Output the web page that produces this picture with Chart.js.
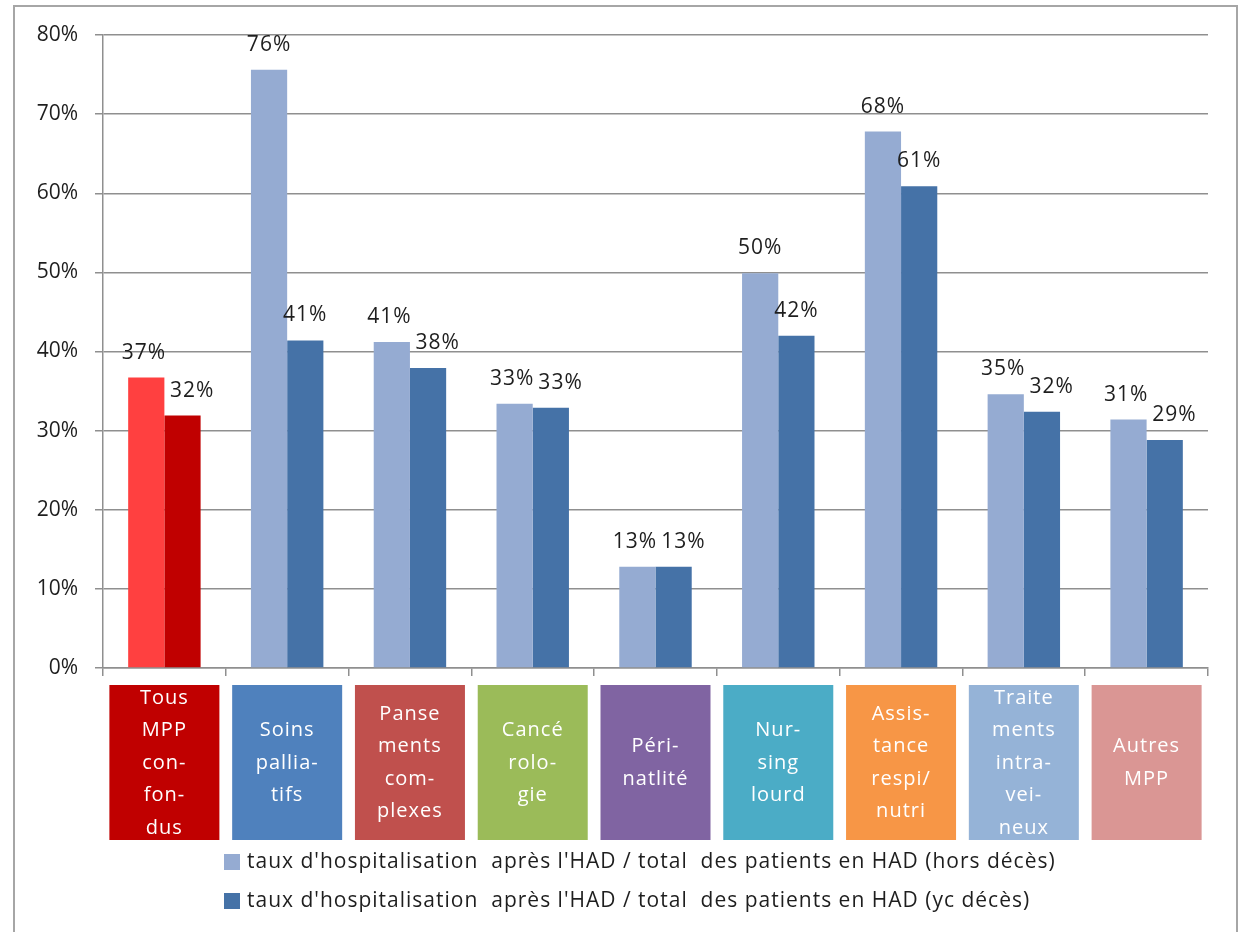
<!DOCTYPE html>
<html>
<head>
<meta charset="utf-8">
<script src="https://cdn.jsdelivr.net/npm/chart.js@4"></script>
<style>
  html, body { margin: 0; padding: 0; background: #fff; }
  #wrap { width: 1241px; height: 932px; position: relative; }
</style>
</head>
<body>
<div id="wrap"><canvas id="chart" width="1241" height="932"></canvas></div>
<script>
// Data
const categories = [
    ['Tous', 'MPP', 'con-', 'fon-', 'dus'],
    ['Soins', 'pallia-', 'tifs'],
    ['Panse', 'ments', 'com-', 'plexes'],
    ['Cancé', 'rolo-', 'gie'],
    ['Péri-', 'natlité'],
    ['Nur-', 'sing', 'lourd'],
    ['Assis-', 'tance', 'respi/', 'nutri'],
    ['Traite', 'ments', 'intra-', 'vei-', 'neux'],
    ['Autres', 'MPP']
];
const horsDeces = [36.7, 75.6, 41.2, 33.4, 12.8, 49.9, 67.8, 34.6, 31.4];
const ycDeces = [31.9, 41.4, 37.9, 32.9, 12.8, 42.0, 60.9, 32.4, 28.8];
const seriesNames = [
    "taux d'hospitalisation  après l'HAD / total  des patients en HAD (hors décès)",
    "taux d'hospitalisation  après l'HAD / total  des patients en HAD (yc décès)"
];
const yTicks = [0, 10, 20, 30, 40, 50, 60, 70, 80];

// Colors
const LIGHT = '#95ABD2';
const DARK = '#4572A7';
const boxColors = ['#C00000', '#4F81BD', '#C0504D', '#9BBB59', '#8064A2', '#4BACC6', '#F79646', '#95B3D7', '#DA9694'];
const FONT = "'Open Sans', Lato, sans-serif";
const GRID = '#8f8f8f';
const TEXT = '#1e1e1e';

// Outer frame
const framePlugin = {
    id: 'frame',
    beforeDraw(chart) {
        const ctx = chart.ctx;
        ctx.save();
        ctx.fillStyle = '#fff';
        ctx.fillRect(0, 0, chart.width, chart.height);
        ctx.strokeStyle = '#a6a6a6';
        ctx.lineWidth = 2;
        ctx.strokeRect(14, 6, 1223, 960);
        ctx.restore();
    }
};

// Value labels above bars, pushed apart when the pair would collide
const valueLabels = {
    id: 'valueLabels',
    afterDatasetsDraw(chart) {
        const ctx = chart.ctx;
        ctx.save();
        ctx.font = '21px ' + FONT;
        ctx.letterSpacing = '1px';
        ctx.fillStyle = TEXT;
        ctx.textAlign = 'center';
        ctx.textBaseline = 'middle';
        const m0 = chart.getDatasetMeta(0).data;
        const m1 = chart.getDatasetMeta(1).data;
        const d0 = chart.data.datasets[0].data;
        const d1 = chart.data.datasets[1].data;
        categories.forEach((c, i) => {
            const t0 = Math.round(d0[i]) + '%';
            const t1 = Math.round(d1[i]) + '%';
            let x0 = m0[i].x, x1 = m1[i].x;
            const y0 = m0[i].y - 25, y1 = m1[i].y - 25;
            if (Math.abs(y1 - y0) < 42) {
                const w0 = ctx.measureText(t0).width, w1 = ctx.measureText(t1).width;
                const overlap = (w0 + w1) / 2 + 4 - (x1 - x0);
                if (overlap > 0) {
                    x0 -= overlap * 0.2;
                    x1 += overlap * 0.8;
                }
            }
            ctx.fillText(t0, x0, y0);
            ctx.fillText(t1, x1, y1);
        });
        ctx.restore();
    }
};

// Coloured category boxes under the axis
const categoryBoxes = {
    id: 'categoryBoxes',
    afterDraw(chart) {
        const ctx = chart.ctx;
        const x = chart.scales.x;
        const top = 685, h = 155, w = 110, mid = 763, lh = 32.5;
        ctx.save();
        categories.forEach((lines, i) => {
            const cx = x.getPixelForValue(i);
            ctx.fillStyle = boxColors[i];
            ctx.fillRect(cx - w / 2, top, w, h);
            ctx.save();
            ctx.beginPath();
            ctx.rect(cx - w / 2, top, w, h);
            ctx.clip();
            ctx.fillStyle = '#fff';
            ctx.font = '20px ' + FONT;
            ctx.letterSpacing = '1px';
            ctx.textAlign = 'center';
            ctx.textBaseline = 'middle';
            lines.forEach((t, j) => {
                ctx.fillText(t, cx, mid + (j - (lines.length - 1) / 2) * lh);
            });
            ctx.restore();
        });
        ctx.restore();
    }
};

// Legend drawn from the datasets
const bottomLegend = {
    id: 'bottomLegend',
    afterDraw(chart) {
        const ctx = chart.ctx;
        ctx.save();
        ctx.font = '21px ' + FONT;
        ctx.letterSpacing = '1px';
        ctx.textBaseline = 'middle';
        ctx.textAlign = 'left';
        const rows = [862, 901];
        chart.data.datasets.forEach((ds, d) => {
            ctx.fillStyle = ds.legendColor;
            ctx.fillRect(224, rows[d] - 8, 16, 16);
            ctx.fillStyle = TEXT;
            ctx.fillText(ds.label, 247, rows[d]);
        });
        ctx.restore();
    }
};

function barColors(first, rest) {
    return categories.map((c, i) => i === 0 ? first : rest);
}

const ctx = document.getElementById('chart');
new Chart(ctx, {
    type: 'bar',
    data: {
        labels: categories,
        datasets: [{
            label: seriesNames[0],
            data: horsDeces,
            backgroundColor: barColors('#FF4040', LIGHT),
            legendColor: LIGHT,
            categoryPercentage: 0.59,
            barPercentage: 1
        }, {
            label: seriesNames[1],
            data: ycDeces,
            backgroundColor: barColors('#C00000', DARK),
            legendColor: DARK,
            categoryPercentage: 0.59,
            barPercentage: 1
        }]
    },
    options: {
        responsive: false,
        animation: false,
        devicePixelRatio: 1,
        layout: { padding: { left: 0, right: 33, top: 35, bottom: 0 } },
        plugins: {
            legend: { display: false },
            tooltip: { enabled: false }
        },
        scales: {
            x: {
                offset: true,
                ticks: { display: false },
                grid: { offset: true, drawOnChartArea: false, color: GRID, tickLength: 8, lineWidth: 1.5 },
                border: { color: GRID, width: 1.5 },
                afterFit(scale) { scale.height = 932 - 668; }
            },
            y: {
                min: 0,
                max: 80,
                afterBuildTicks(scale) { scale.ticks = yTicks.map(v => ({ value: v })); },
                ticks: {
                    padding: 17,
                    color: TEXT,
                    font: { size: 21, family: FONT },
                    callback: v => v + '%'
                },
                grid: { color: GRID, tickLength: 8, lineWidth: 1.5 },
                border: { color: GRID, width: 1.5 },
                afterFit(scale) { scale.width = 103; }
            }
        }
    },
    plugins: [framePlugin, valueLabels, categoryBoxes, bottomLegend]
});
</script>
</body>
</html>
